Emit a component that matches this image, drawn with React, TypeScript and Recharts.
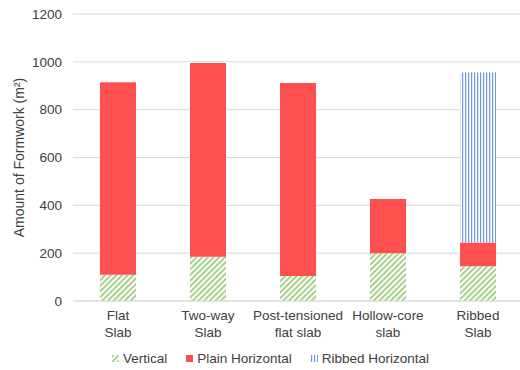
import React from "react";
import { BarChart, Bar, XAxis, YAxis, CartesianGrid, Legend } from "recharts";

const categories = [
  "Flat\nSlab",
  "Two-way\nSlab",
  "Post-tensioned\nflat slab",
  "Hollow-core\nslab",
  "Ribbed\nSlab",
];
const vertical = [110, 185, 105, 200, 145];
const plainHorizontal = [805, 810, 807, 227, 100];
const ribbedHorizontal = [0, 0, 0, 0, 710];
const yTicks = [0, 200, 400, 600, 800, 1000, 1200];

const data = categories.map((name, i) => ({
  name,
  vertical: vertical[i],
  plain: plainHorizontal[i],
  ribbed: ribbedHorizontal[i],
}));

const font = "'Liberation Sans', Arial, sans-serif";
const ink = "#404040";
const red = "#ff5050";

function CategoryTick({ x, y, payload }: any) {
  const lines = String(payload.value).split("\n");
  return (
    <text x={x} y={y} textAnchor="middle" fill={ink} fontSize={13.5} fontFamily={font}>
      {lines.map((l, i) => (
        <tspan key={i} x={x} dy={i === 0 ? 11 : 17}>
          {l}
        </tspan>
      ))}
    </text>
  );
}

const legendItems = [
  { label: "Vertical", fill: "url(#hatchGreen)" },
  { label: "Plain Horizontal", fill: red },
  { label: "Ribbed Horizontal", fill: "url(#stripeBlue)" },
];

function LegendBox() {
  return (
    <div
      style={{
        display: "flex",
        justifyContent: "center",
        gap: 19,
        paddingTop: 10,
        paddingLeft: 18,
        fontFamily: font,
        fontSize: 13.5,
        color: ink,
      }}
    >
      {legendItems.map((it) => (
        <span key={it.label} style={{ display: "flex", alignItems: "center" }}>
          <svg width={7} height={7} style={{ marginRight: 4 }}>
            <rect width={7} height={7} fill={it.fill} />
          </svg>
          {it.label}
        </span>
      ))}
    </div>
  );
}

export default function App() {
  return (
    <div style={{ position: "absolute", left: 0, top: 0, width: 520, height: 370, overflow: "hidden", background: "#fff" }}>
      <svg width={0} height={0} style={{ position: "absolute" }}>
        <defs>
          <pattern id="hatchGreen" patternUnits="userSpaceOnUse" width={4} height={4} patternTransform="rotate(45)">
            <rect width={4} height={4} fill="#ffffff" />
            <rect width={1.8} height={4} fill="#9ccc7e" />
          </pattern>
          <pattern id="stripeBlue" patternUnits="userSpaceOnUse" width={3} height={4}>
            <rect width={3} height={4} fill="#ffffff" />
            <rect width={1.2} height={4} fill="#6b98e3" />
          </pattern>
        </defs>
      </svg>
      <BarChart
        width={530}
        height={370}
        data={data}
        margin={{ top: 14, right: 7, left: 0, bottom: 0 }}
        barSize={36}
      >
        <CartesianGrid vertical={false} stroke="#d9d9d9" />
        <XAxis
          dataKey="name"
          interval={0}
          height={40}
          tickLine={false}
          axisLine={{ stroke: "#d9d9d9" }}
          tick={<CategoryTick />}
        />
        <YAxis
          width={73}
          domain={[0, 1200]}
          ticks={yTicks}
          tickLine={false}
          axisLine={false}
          tickSize={0}
          tickMargin={11}
          tick={{ fill: ink, fontSize: 13.5, fontFamily: font }}
          label={{
            value: "Amount of Formwork (m²)",
            angle: -90,
            position: "insideLeft",
            offset: 19,
            style: { textAnchor: "middle", fill: ink, fontSize: 14, fontFamily: font },
          }}
        />
        <Legend verticalAlign="bottom" height={29} content={<LegendBox />} />
        <Bar dataKey="vertical" stackId="a" fill="url(#hatchGreen)" isAnimationActive={false} />
        <Bar dataKey="plain" stackId="a" fill={red} isAnimationActive={false} />
        <Bar dataKey="ribbed" stackId="a" fill="url(#stripeBlue)" isAnimationActive={false} />
      </BarChart>
    </div>
  );
}
